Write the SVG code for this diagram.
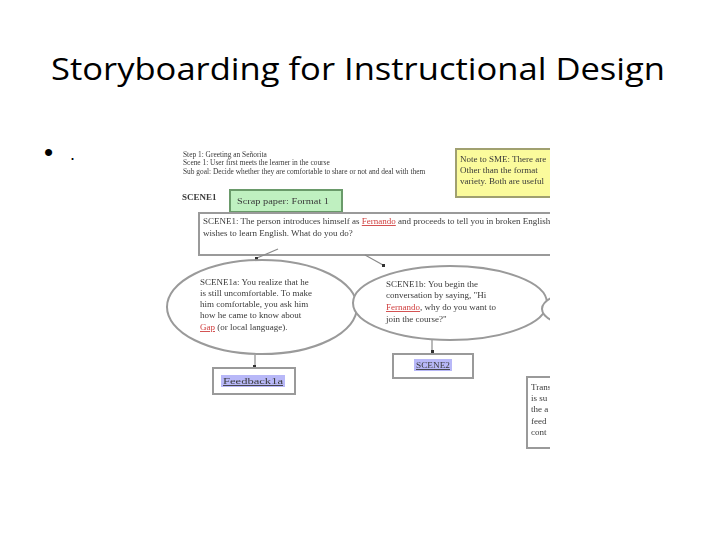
<svg xmlns="http://www.w3.org/2000/svg" width="720" height="540" viewBox="0 0 720 540">
<defs>
<style>
.t{font-family:"Liberation Serif",serif;font-size:9px;fill:#3a3a3a}
.s{font-size:7.4px}
.b{fill:#fff;stroke:#9a9a9a;stroke-width:2}
.ln{stroke:#8a8a8a;stroke-width:1.2;fill:none}
.dot{fill:#333}
.title{font-family:"Open Sans","Liberation Sans",sans-serif;font-size:31px;fill:#000}
</style>
<clipPath id="clip"><rect x="160" y="140" width="390" height="320"/></clipPath>
<filter id="soft" x="-5%" y="-5%" width="110%" height="110%"><feGaussianBlur stdDeviation="0.55"/></filter>
</defs>
<rect width="720" height="540" fill="#fff"/>
<text class="title" x="358" y="80" text-anchor="middle" textLength="614" lengthAdjust="spacingAndGlyphs">Storyboarding for Instructional Design</text>
<text x="44" y="161" font-family="Liberation Sans,sans-serif" font-size="26">•</text>
<text x="70" y="160" font-family="Liberation Sans,sans-serif" font-size="18">.</text>
<g clip-path="url(#clip)" filter="url(#soft)">
<g id="header">
<text class="t s" x="183" y="157">Step 1: Greeting an Señorita</text>
<text class="t s" x="183" y="165">Scene 1: User first meets the learner in the course</text>
<text class="t s" x="183" y="174">Sub goal: Decide whether they are comfortable to share or not and deal with them</text>
<text class="t" x="182" y="200" font-weight="bold" font-size="8.5">SCENE1</text>
</g>
<g id="note">
<rect x="456" y="149" width="100" height="48" fill="#fbfb9c" stroke="#a0a070" stroke-width="2"/>
<text class="t" x="460" y="162" font-size="8.5" fill="#444">Note to SME: There are</text>
<text class="t" x="460" y="173" font-size="8.5" fill="#444">Other than the format</text>
<text class="t" x="460" y="184" font-size="8.5" fill="#444">variety. Both are useful</text>
</g>
<g id="scrap">
<rect x="230" y="190" width="112" height="22" fill="#bff0c0" stroke="#6a9a6a" stroke-width="2"/>
<text class="t" x="237" y="204" fill="#2f4f2f" textLength="92" lengthAdjust="spacingAndGlyphs">Scrap paper: Format 1</text>
</g>
<g id="scene1">
<rect class="b" x="199" y="213" width="360" height="42"/>
<text class="t" x="203" y="224" font-size="8.5">SCENE1: The person introduces himself as <tspan fill="#d04040" style="text-decoration:underline">Fernando</tspan> and proceeds to tell you in broken English he</text>
<text class="t" x="203" y="236" font-size="8.5">wishes to learn English. What do you do?</text>
</g>
<g id="connectors">
<path class="ln" d="M278 249 L257 258"/>
<path class="ln" d="M365 255 L383 265"/>
<path class="ln" d="M255 355 L255 367"/>
<path class="ln" d="M432 340 L432 354"/>
<rect class="dot" x="255" y="257" width="3" height="3"/>
<rect class="dot" x="382" y="264" width="3" height="3"/>
<rect class="dot" x="253" y="365" width="3" height="3"/>
<rect class="dot" x="431" y="350" width="3" height="3"/>
</g>
<g id="scene1a">
<ellipse class="b" cx="262" cy="307" rx="95" ry="47"/>
<text class="t" x="200" y="285">SCENE1a: You realize that he</text>
<text class="t" x="200" y="296">is still uncomfortable. To make</text>
<text class="t" x="200" y="307">him comfortable, you ask him</text>
<text class="t" x="200" y="318">how he came to know about</text>
<text class="t" x="200" y="330"><tspan fill="#d04040" style="text-decoration:underline">Gap</tspan> (or local language).</text>
</g>
<g id="scene1b">
<ellipse class="b" cx="450" cy="303" rx="97" ry="37"/>
<text class="t" x="386" y="287">SCENE1b: You begin the</text>
<text class="t" x="386" y="298">conversation by saying, "Hi</text>
<text class="t" x="386" y="310"><tspan fill="#d04040" style="text-decoration:underline">Fernando</tspan>, why do you want to</text>
<text class="t" x="386" y="322">join the course?"</text>
</g>
<g id="scene1c">
<ellipse class="b" cx="640" cy="309" rx="98" ry="26"/>
</g>
<g id="feedback">
<rect class="b" x="213" y="368" width="82" height="26"/>
<rect x="221" y="375" width="64" height="12" fill="#b8b8f8"/>
<text class="t" x="223" y="384" fill="#3030a0" style="text-decoration:underline" textLength="60" lengthAdjust="spacingAndGlyphs">Feedback1a</text>
</g>
<g id="scene2">
<rect class="b" x="393" y="354" width="80" height="24"/>
<rect x="414" y="359" width="38" height="12" fill="#b8b8f8"/>
<text class="t" x="416" y="368" fill="#3030a0" style="text-decoration:underline" textLength="34" lengthAdjust="spacingAndGlyphs">SCENE2</text>
</g>
<g id="rightbox">
<rect class="b" x="527" y="377" width="60" height="71"/>
<text class="t" x="531" y="390">Trans</text>
<text class="t" x="531" y="401">is su</text>
<text class="t" x="531" y="412">the a</text>
<text class="t" x="531" y="424">feed</text>
<text class="t" x="531" y="435">cont</text>
</g>
</g>
</svg>
